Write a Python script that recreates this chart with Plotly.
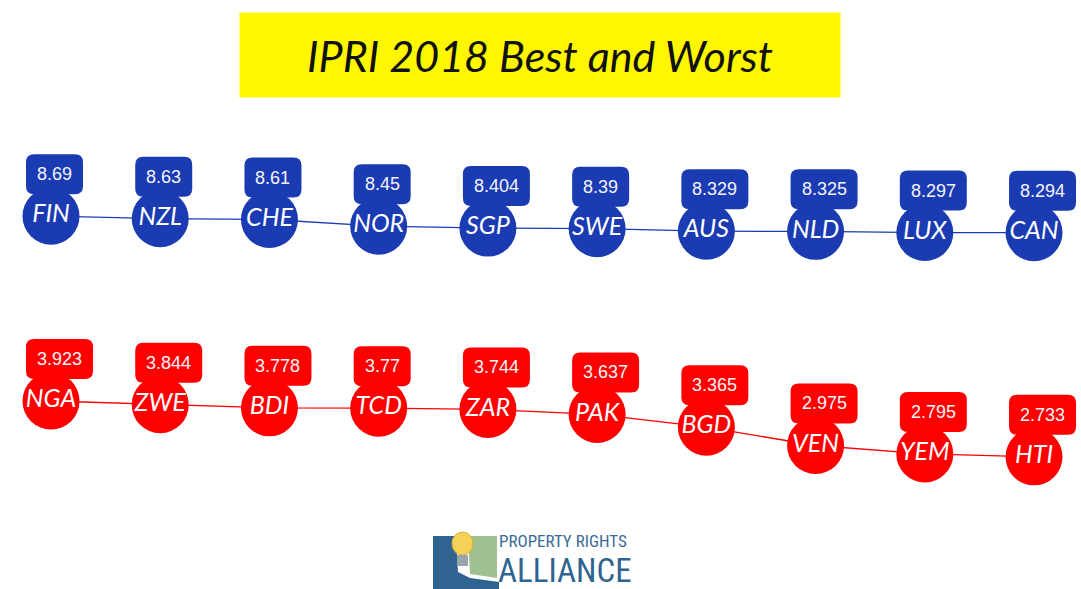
import plotly.graph_objects as go

# ---------------- data ----------------
best_codes = ["FIN", "NZL", "CHE", "NOR", "SGP", "SWE", "AUS", "NLD", "LUX", "CAN"]
best_values = [8.69, 8.63, 8.61, 8.45, 8.404, 8.39, 8.329, 8.325, 8.297, 8.294]
best_labels = ["8.69", "8.63", "8.61", "8.45", "8.404", "8.39", "8.329", "8.325", "8.297", "8.294"]

worst_codes = ["NGA", "ZWE", "BDI", "TCD", "ZAR", "PAK", "BGD", "VEN", "YEM", "HTI"]
worst_values = [3.923, 3.844, 3.778, 3.77, 3.744, 3.637, 3.365, 2.975, 2.795, 2.733]
worst_labels = ["3.923", "3.844", "3.778", "3.77", "3.744", "3.637", "3.365", "2.975", "2.795", "2.733"]

title_text = "IPRI 2018 Best and Worst"

# ---------------- style ----------------
W, H = 1081, 589
BLUE = "#1b3bb3"
RED = "#fe0000"
CODE_FONT = dict(family="Lato, 'Open Sans', sans-serif", size=25, color="white", style="italic")
VAL_FONT = dict(family="'Liberation Sans', Arial, sans-serif", size=18, color="#f4f4fb")
NARROW = "'Liberation Sans Narrow', 'Arial Narrow', 'Roboto Condensed', sans-serif"


def text_w(s):
    return sum(5.0 if c == "." else 10.0 for c in s)


def rounded_path(x0, y0, x1, y1, r):
    return (f"M {x0 + r},{y0} L {x1 - r},{y0} Q {x1},{y0} {x1},{y0 + r} "
            f"L {x1},{y1 - r} Q {x1},{y1} {x1 - r},{y1} L {x0 + r},{y1} "
            f"Q {x0},{y1} {x0},{y1 - r} L {x0},{y0 + r} Q {x0},{y0} {x0 + r},{y0} Z")


fig = go.Figure()

series = [
    (best_codes, best_values, best_labels, BLUE, "y", "y"),
    (worst_codes, worst_values, worst_labels, RED, "y2", "y2"),
]

shapes = []
annotations = []
for codes, vals, labels, color, yaxis, yref in series:
    xs = list(range(len(codes)))
    fig.add_trace(go.Scatter(
        x=xs, y=vals, text=codes, mode="lines+markers+text",
        yaxis=yaxis,
        line=dict(color=color, width=1.3),
        marker=dict(size=57, color=color, line=dict(width=0)),
        textposition="middle center", textfont=CODE_FONT,
        cliponaxis=False, showlegend=False, hoverinfo="skip",
    ))
    for x, v, lab in zip(xs, vals, labels):
        w = text_w(lab) + 22
        left = -25
        shapes.append(dict(
            type="path", xref="x", yref=yref,
            xsizemode="pixel", ysizemode="pixel",
            xanchor=x, yanchor=v,
            path=rounded_path(left, 22, left + w, 62, 8),
            fillcolor=color, line=dict(width=0), layer="below",
        ))
        annotations.append(dict(
            x=x, y=v, xref="x", yref=yref, text=lab, showarrow=False,
            xanchor="center", yanchor="middle",
            xshift=left + w / 2, yshift=42, font=VAL_FONT,
        ))


def px(xp):
    return xp / W


def py(yp):
    return 1 - yp / H


# title box
annotations.append(dict(
    x=px(540), y=py(55), xref="paper", yref="paper", text=title_text,
    showarrow=False, xanchor="center", yanchor="middle",
    width=596, height=80, bgcolor="#fff700", borderpad=2,
    font=dict(family="Lato, sans-serif", size=43, color="#111111", style="italic"),
))

# logo (Property Rights Alliance)
shapes += [
    dict(type="path", xref="paper", yref="paper",
         path=f"M {px(433)},{py(536)} L {px(456)},{py(536)} L {px(458)},{py(572)} "
              f"L {px(470)},{py(578)} L {px(499)},{py(582)} L {px(499)},{py(589)} "
              f"L {px(433)},{py(589)} Z",
         fillcolor="#2f6490", line=dict(width=0)),
    dict(type="path", xref="paper", yref="paper",
         path=f"M {px(468)},{py(536)} L {px(497)},{py(536)} L {px(497)},{py(578)} "
              f"L {px(470)},{py(574)} Z",
         fillcolor="#9fc18f", line=dict(width=0)),
    dict(type="circle", xref="paper", yref="paper",
         x0=px(452), x1=px(473), y0=py(532), y1=py(555),
         fillcolor="#f5d257", line=dict(color="#d9b23a", width=1)),
    dict(type="rect", xref="paper", yref="paper",
         x0=px(457), x1=px(468), y0=py(555), y1=py(566),
         fillcolor="#9aa4ad", line=dict(width=0)),
]
annotations += [
    dict(x=px(497), y=py(541), xref="paper", yref="paper", text="PROPERTY RIGHTS",
         showarrow=False, xanchor="left", yanchor="middle",
         font=dict(family=NARROW, size=17, color="#3a6b97")),
    dict(x=px(496), y=py(570), xref="paper", yref="paper", text="ALLIANCE",
         showarrow=False, xanchor="left", yanchor="middle",
         font=dict(family=NARROW, size=33, color="#2f6490")),
]

fig.update_layout(
    width=W, height=H, autosize=False,
    margin=dict(l=0, r=0, t=0, b=0, pad=0),
    paper_bgcolor="white", plot_bgcolor="white",
    xaxis=dict(visible=False, range=[-0.467, 9.430], fixedrange=True),
    yaxis=dict(visible=False, range=[-0.272, 13.887], domain=[0, 1], fixedrange=True),
    yaxis2=dict(visible=False, range=[-0.085, 12.473], domain=[0, 1],
                overlaying="y", fixedrange=True),
    shapes=shapes, annotations=annotations,
)

fig.write_html("out.html", config={"displayModeBar": False},
               post_script="document.body.style.margin='0';document.body.style.overflow='hidden';")
